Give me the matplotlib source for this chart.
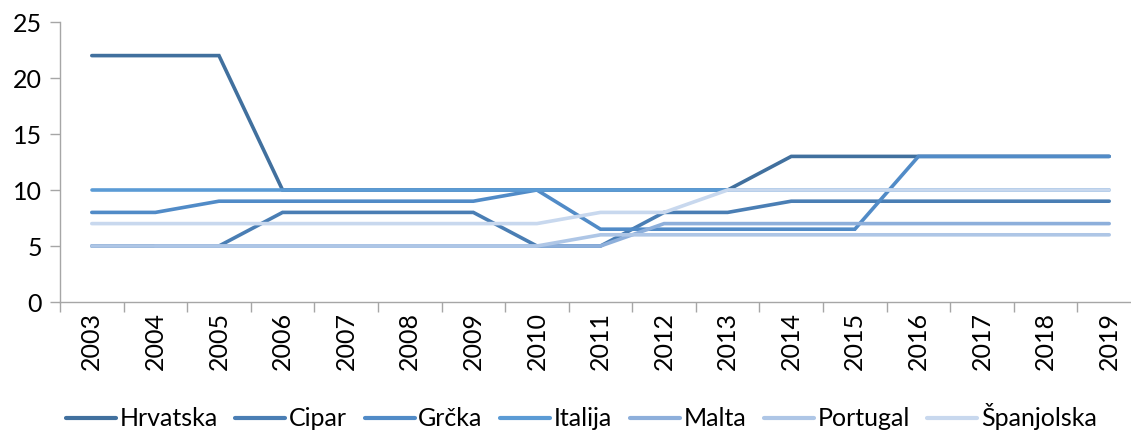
import numpy as np
import matplotlib
matplotlib.use("Agg")
import matplotlib.pyplot as plt

plt.rcParams['font.family'] = ['Lato', 'DejaVu Sans']

years = [str(y) for y in range(2003, 2020)]
nan = np.nan
hrvatska = [22, 22, 22, 10, 10, 10, 10, 10, 10, 10, 10, 13, 13, 13, 13, 13, 13]
cipar = [5, 5, 5, 8, 8, 8, 8, 5, 5, 8, 8, 9, 9, 9, 9, 9, 9]
grcka = [8, 8, 9, 9, 9, 9, 9, 10, 6.5, 6.5, 6.5, 6.5, 6.5, 13, 13, 13, 13]
italija = [10, 10, 10, 10, 10, 10, 10, 10, 10, 10, 10, 10, 10, 10, 10, 10, 10]
malta = [nan, 5, 5, 5, 5, 5, 5, 5, 5, 7, 7, 7, 7, 7, 7, 7, 7]
portugal = [5, 5, 5, 5, 5, 5, 5, 5, 6, 6, 6, 6, 6, 6, 6, 6, 6]
spanjolska = [7, 7, 7, 7, 7, 7, 7, 7, 8, 8, 10, 10, 10, 10, 10, 10, 10]

series = [
    ("Hrvatska", hrvatska, "#41709E"),
    ("Cipar", cipar, "#4A7EB4"),
    ("Grčka", grcka, "#518BC7"),
    ("Italija", italija, "#5B9BD5"),
    ("Malta", malta, "#8DAFDB"),
    ("Portugal", portugal, "#AEC6E6"),
    ("Španjolska", spanjolska, "#C8D8EE"),
]

fig = plt.figure(figsize=(11.31, 4.34), dpi=100)
ax = fig.add_axes([60 / 1131, 132 / 434, 1081 / 1131, 280 / 434])
x = np.arange(len(years))
for name, vals, col in series:
    ax.plot(x, vals, color=col, lw=2.6, label=name, solid_capstyle='round',
            solid_joinstyle='miter')

ax.set_xlim(-0.5, len(years) - 0.5)
ax.set_ylim(0, 25)
ax.set_yticks([0, 5, 10, 15, 20, 25])
ax.set_xticks(x)
ax.set_xticklabels(years, rotation=90, fontsize=18)
ax.set_xticks(np.arange(-0.5, len(years), 1), minor=True)
ax.tick_params(axis='x', which='major', length=0, pad=7)
ax.tick_params(axis='x', which='minor', length=7, color='#A6A6A6', width=1)
ax.tick_params(axis='y', length=7, color='#A6A6A6', width=1, labelsize=18, pad=6)
for s in ['top', 'right']:
    ax.spines[s].set_visible(False)
for s in ['left', 'bottom']:
    ax.spines[s].set_color('#A6A6A6')
    ax.spines[s].set_linewidth(1)

leg = fig.legend(loc='center', bbox_to_anchor=(0.514, 17 / 434), ncol=7,
                 frameon=False, fontsize=18, handlelength=2.0, handletextpad=0.15,
                 columnspacing=0.7)
for h in leg.get_lines():
    h.set_linewidth(3.0)
fig.savefig("out.png", dpi=100)
